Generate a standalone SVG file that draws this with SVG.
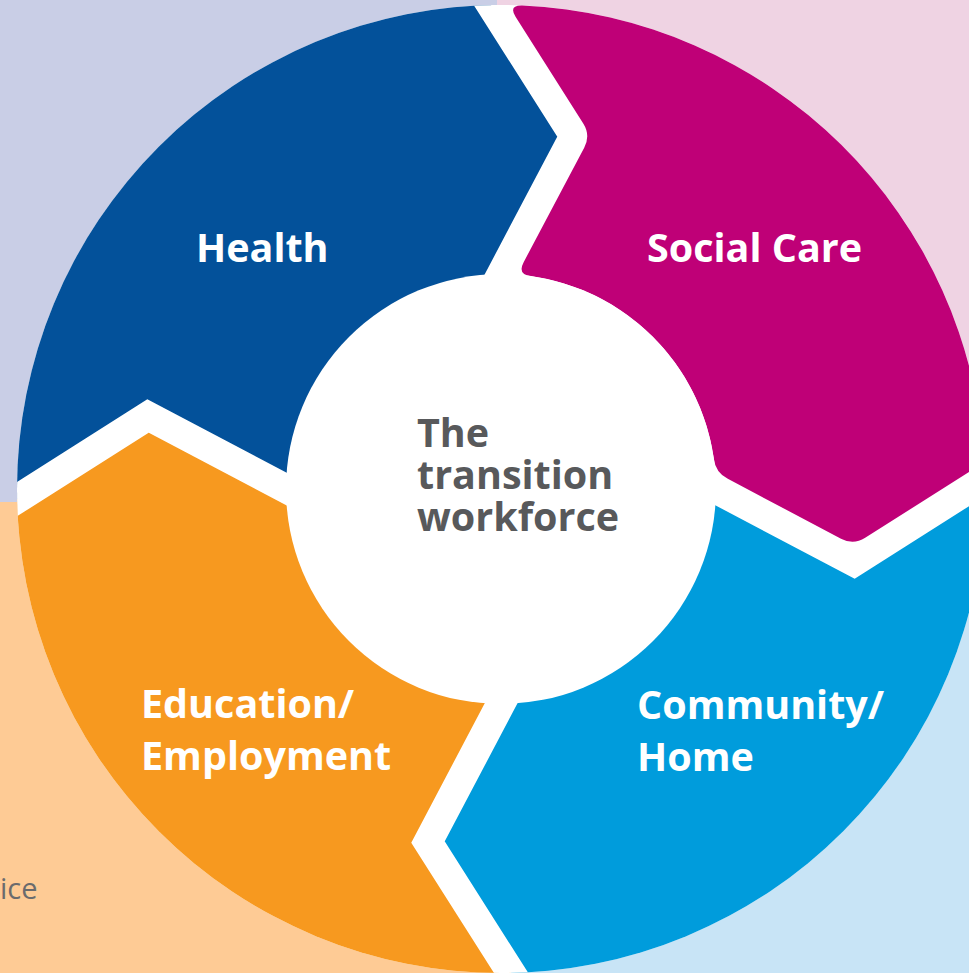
<svg xmlns="http://www.w3.org/2000/svg" width="969" height="973" viewBox="0 0 969 973">
<style>
.lbl{font-family:"Open Sans","Noto Sans","Liberation Sans",sans-serif;font-weight:700;font-size:39.5px;fill:#ffffff}
.ctr{font-family:"Open Sans","Noto Sans","Liberation Sans",sans-serif;font-weight:700;font-size:39.5px;fill:#58595b}
.gap{fill:none;stroke:#ffffff;stroke-width:29;stroke-linejoin:miter;stroke-miterlimit:10}
</style>
<defs>
<clipPath id="outer"><circle cx="501" cy="489" r="484"/></clipPath>
</defs>
<g id="background">
<rect x="0" y="0" width="497" height="502" fill="#c9cee6"/>
<rect x="497" y="0" width="472" height="502" fill="#efd3e3"/>
<rect x="0" y="502" width="497" height="471" fill="#fecb95"/>
<rect x="497" y="502" width="472" height="471" fill="#c8e4f6"/>
<text x="0" y="899" style="font-family:'Open Sans','Noto Sans','Liberation Sans',sans-serif;font-size:29px;fill:#6b6b6d">ice</text>
</g>
<circle cx="501" cy="489" r="484" fill="#ffffff"/>
<g clip-path="url(#outer)">
<g id="health"><path d="M501,489 L286,489 L148,416 L-19,522 L-19,-31 L468,-31 L574,136 L501,274 Z" fill="#03519a"/></g>
<g id="community"><path d="M501,489 L716,489 L854,562 L1021,456 L1021,1009 L534,1009 L428,842 L501,704 Z" fill="#009cdc"/></g>
<g id="education"><path d="M501,489 L501,704 L428,842 L534,1009 L-19,1009 L-19,522 L148,416 L286,489 Z" fill="#f7991f"/></g>
<g id="connectors">
<polyline class="gap" points="467,339 574,136 468,-31"/>
<polyline class="gap" points="651,455 854,562 1021,456"/>
<polyline class="gap" points="535,639 428,842 534,1009"/>
<polyline class="gap" points="351,523 148,416 -19,522"/>
</g>
</g>
<g id="social-care"><path d="M523.65,262.2 L584.2,147.7 Q590.75,135.35 583.26,123.5 L515.7,16.9 Q508.2,5.1 522.2,5.5 A484,484 0 0 1 984.25,462.3 L865.2,537.8 Q853.35,545.25 841,538.7 L727.8,478.85 Q715.4,472.3 713.8,458.4 A215,215 0 0 0 531,276.1 Q517.1,274.6 523.65,262.2 Z" fill="#bf0077"/></g>
<g id="center">
<circle cx="501" cy="489" r="215" fill="#ffffff"/>
<text class="ctr"><tspan x="417" y="447">The</tspan><tspan x="417" y="489">transition</tspan><tspan x="417" y="531">workforce</tspan></text>
</g>
<text class="lbl" x="196" y="262">Health</text>
<text class="lbl" x="647" y="262">Social Care</text>
<text class="lbl"><tspan x="141" y="718">Education/</tspan><tspan x="141" y="770">Employment</tspan></text>
<text class="lbl"><tspan x="637" y="719">Community/</tspan><tspan x="637" y="771">Home</tspan></text>
</svg>
